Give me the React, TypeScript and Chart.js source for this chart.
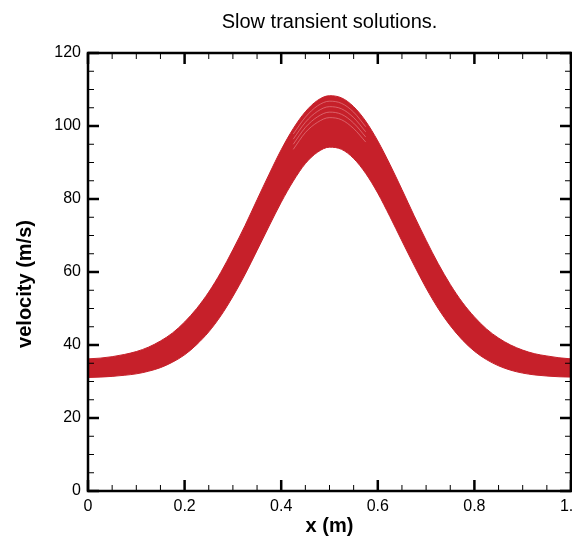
import { useEffect, useRef } from "react";
import { Chart, registerables } from "chart.js";

Chart.register(...registerables);

const chartTitle = "Slow transient solutions.";
const xAxisTitle = "x (m)";
const yAxisTitle = "velocity (m/s)";

const xPositions = [
  0, 0.025, 0.05, 0.075, 0.1, 0.125, 0.15, 0.175, 0.2, 0.225,
  0.25, 0.275, 0.3, 0.325, 0.35, 0.375, 0.4, 0.425, 0.45, 0.475,
  0.5, 0.525, 0.55, 0.575, 0.6, 0.625, 0.65, 0.675, 0.7, 0.725,
  0.75, 0.775, 0.8, 0.825, 0.85, 0.875, 0.9, 0.925, 0.95, 0.975, 1,
];

// upper envelope of the transient solutions
const upperVelocity = [
  36.2, 36.4, 36.8, 37.4, 38.2, 39.4, 41.1, 43.3, 46.3, 50.0,
  54.5, 59.9, 66.1, 72.7, 79.8, 86.8, 93.5, 99.3, 103.9, 107.0,
  108.3, 107.7, 105.3, 101.3, 95.9, 89.5, 82.6, 75.5, 68.7, 62.3,
  56.6, 51.7, 47.7, 44.4, 41.9, 40.0, 38.6, 37.6, 37.0, 36.5, 36.2,
];

// lower envelope of the transient solutions
const lowerVelocity = [
  31.1, 31.2, 31.4, 31.7, 32.1, 32.8, 33.8, 35.3, 37.3, 40.1,
  43.6, 48.0, 53.3, 59.3, 65.9, 72.6, 79.1, 84.9, 89.7, 92.8,
  94.2, 93.6, 91.1, 87.0, 81.6, 75.2, 68.5, 61.9, 55.6, 50.0,
  45.3, 41.4, 38.3, 36.0, 34.3, 33.1, 32.3, 31.8, 31.5, 31.3, 31.2,
];

// faint inner solution lines visible near the peak
const peakX = [0.425, 0.45, 0.475, 0.5, 0.525, 0.55, 0.575];
const innerA = [97.8, 102.4, 105.5, 106.8, 106.2, 103.8, 99.8];
const innerB = [96.4, 101.0, 104.0, 105.3, 104.7, 102.3, 98.4];
const innerC = [95.0, 99.6, 102.5, 103.8, 103.2, 100.8, 97.0];
const innerD = [93.6, 98.2, 101.0, 102.3, 101.7, 99.3, 95.6];

const xMajorTicks = [0, 0.2, 0.4, 0.6, 0.8, 1];
const yMajorTicks = [0, 20, 40, 60, 80, 100, 120];

const RED = "#C6202A";
const FONT = '"Liberation Sans", Arial, Helvetica, sans-serif';

const toPoints = (xs: number[], ys: number[]) => xs.map((x, i) => ({ x, y: ys[i] }));

const framePlugin = {
  id: "frameAndTicks",
  afterDraw(chart: any) {
    const { ctx, chartArea, scales } = chart;
    const { left, right, top, bottom } = chartArea;
    const xs = scales.x;
    const ys = scales.y;
    ctx.save();
    // minor ticks
    ctx.strokeStyle = "#000";
    ctx.lineWidth = 1;
    ctx.beginPath();
    for (let i = 0; i <= 20; i++) {
      if (i % 4 === 0) continue;
      const px = xs.getPixelForValue(i * 0.05);
      ctx.moveTo(px, bottom);
      ctx.lineTo(px, bottom - 6);
      ctx.moveTo(px, top);
      ctx.lineTo(px, top + 6);
    }
    for (let i = 0; i <= 24; i++) {
      if (i % 4 === 0) continue;
      const py = ys.getPixelForValue(i * 5);
      ctx.moveTo(left, py);
      ctx.lineTo(left + 6, py);
      ctx.moveTo(right, py);
      ctx.lineTo(right - 6, py);
    }
    ctx.stroke();
    // major ticks
    ctx.lineWidth = 2.5;
    ctx.beginPath();
    xMajorTicks.forEach((v) => {
      const px = xs.getPixelForValue(v);
      ctx.moveTo(px, bottom);
      ctx.lineTo(px, bottom - 11);
      ctx.moveTo(px, top);
      ctx.lineTo(px, top + 11);
    });
    yMajorTicks.forEach((v) => {
      const py = ys.getPixelForValue(v);
      ctx.moveTo(left, py);
      ctx.lineTo(left + 11, py);
      ctx.moveTo(right, py);
      ctx.lineTo(right - 11, py);
    });
    ctx.stroke();
    // frame
    ctx.lineWidth = 2.5;
    ctx.strokeRect(left, top, right - left, bottom - top);
    // titles
    ctx.fillStyle = "#000";
    ctx.textAlign = "center";
    ctx.textBaseline = "alphabetic";
    ctx.font = `20px ${FONT}`;
    ctx.fillText(chartTitle, (left + right) / 2, 28);
    ctx.font = `bold 20px ${FONT}`;
    ctx.fillText(xAxisTitle, (left + right) / 2, 532);
    ctx.save();
    ctx.translate(31, 284);
    ctx.rotate(-Math.PI / 2);
    ctx.fillText(yAxisTitle, 0, 0);
    ctx.restore();
    ctx.restore();
  },
};

export default function App() {
  const canvasRef = useRef<HTMLCanvasElement | null>(null);

  useEffect(() => {
    const canvas = canvasRef.current;
    if (!canvas) return;
    const innerStyle = {
      borderColor: "rgba(232,140,146,0.6)",
      borderWidth: 1,
      pointRadius: 0,
      fill: false,
      order: -1,
      cubicInterpolationMode: "monotone" as const,
    };
    const chart = new Chart(canvas, {
      type: "line",
      data: {
        datasets: [
          {
            label: "lower",
            data: toPoints(xPositions, lowerVelocity),
            borderColor: RED,
            borderWidth: 1,
            pointRadius: 0,
            fill: false,
            cubicInterpolationMode: "monotone",
          },
          {
            label: "upper",
            data: toPoints(xPositions, upperVelocity),
            borderColor: RED,
            backgroundColor: RED,
            borderWidth: 1,
            pointRadius: 0,
            fill: "-1",
            cubicInterpolationMode: "monotone",
          },
          { label: "a", data: toPoints(peakX, innerA), ...innerStyle },
          { label: "b", data: toPoints(peakX, innerB), ...innerStyle },
          { label: "c", data: toPoints(peakX, innerC), ...innerStyle },
          { label: "d", data: toPoints(peakX, innerD), ...innerStyle },
        ],
      },
      options: {
        animation: false,
        responsive: false,
        maintainAspectRatio: false,
        layout: { padding: { top: 53, right: 1, left: 0, bottom: 0 } },
        plugins: {
          legend: { display: false },
          title: { display: false },
          tooltip: { enabled: false },
        },
        scales: {
          x: {
            type: "linear",
            min: 0,
            max: 1,
            grid: { display: false, drawTicks: false },
            border: { display: false },
            ticks: {
              stepSize: 0.2,
              padding: 6,
              color: "#000",
              font: { family: FONT, size: 16 },
              maxRotation: 0,
              autoSkip: false,
            },
            afterFit: (s: any) => {
              s.height = 50;
              s.paddingLeft = 0;
              s.paddingRight = 0;
            },
          },
          y: {
            type: "linear",
            min: 0,
            max: 120,
            grid: { display: false, drawTicks: false },
            border: { display: false },
            ticks: {
              stepSize: 20,
              padding: 7,
              color: "#000",
              font: { family: FONT, size: 16 },
            },
            afterFit: (s: any) => {
              s.width = 88;
              s.paddingTop = 0;
              s.paddingBottom = 0;
            },
          },
        },
      },
      plugins: [framePlugin],
    });
    return () => chart.destroy();
  }, []);

  return (
    <div style={{ position: "absolute", left: 0, top: 0, width: 572, height: 541, background: "#fff" }}>
      <canvas ref={canvasRef} width={572} height={541} style={{ display: "block", width: 572, height: 541 }} />
    </div>
  );
}
